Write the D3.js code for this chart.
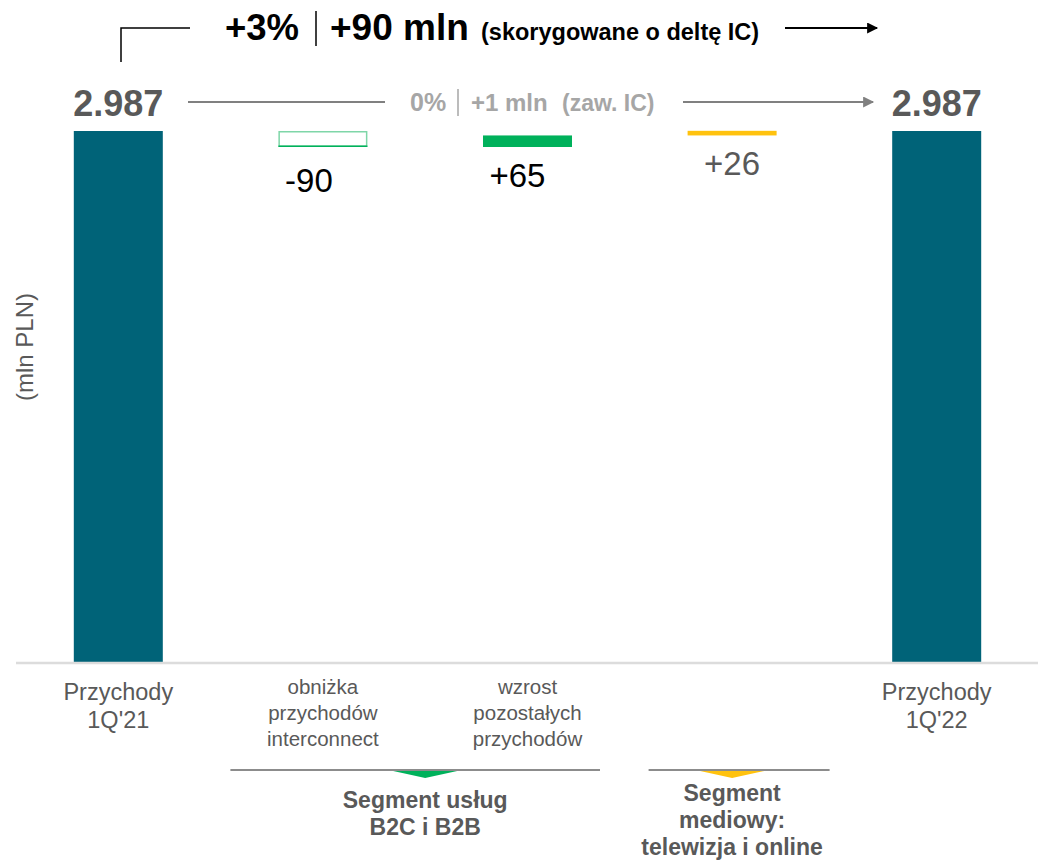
<!DOCTYPE html>
<html>
<head>
<meta charset="utf-8">
<script src="https://cdn.jsdelivr.net/npm/d3@7"></script>
<style>
  html, body { margin: 0; padding: 0; background: #fff; }
  svg { display: block; font-family: "Liberation Sans", Arial, sans-serif; }
</style>
</head>
<body>
<svg id="chart" width="1038" height="862"></svg>
<script>
// Revenue bridge 1Q'21 -> 1Q'22 (mln PLN)
const categories = ["p21", "ic", "other", "media", "p22"];
const categoryLabels = [
  ["Przychody", "1Q'21"],
  ["obniżka", "przychodów", "interconnect"],
  ["wzrost", "pozostałych", "przychodów"],
  [],
  ["Przychody", "1Q'22"]
];
const barKinds = ["total", "decrease", "increase", "increase", "total"];
const barValues = [2987, -90, 65, 26, 2987];
const valueLabels = ["2.987", "-90", "+65", "+26", "2.987"];

const headline = { pct: "+3%", abs: "+90 mln", note: "(skorygowane o deltę IC)" };
const subline = { pct: "0%", abs: "+1 mln", note: "(zaw. IC)" };

const segmentNames = [["Segment usług", "B2C i B2B"], ["Segment", "mediowy:", "telewizja i online"]];
const segmentSpans = [["ic", "other"], ["media", "media"]];

const axisTitle = "(mln PLN)";

// ---- layout ----
const svg = d3.select("#chart");
const teal = "#006378", green = "#00b15b", yellow = "#ffc20e";
const dark = "#595959";

const x = d3.scaleBand().domain(categories).range([16, 1039])
  .paddingInner(0.565).paddingOuter(0.2825);
const y = d3.scaleLinear().domain([0, 2987]).range([662, 131]);
const mid = (k) => x(k) + x.bandwidth() / 2;

// running bases for the bridge
let running = 0;
const bars = categories.map((c, i) => {
  const v = barValues[i];
  let y0, y1;
  if (barKinds[i] === "total") { y0 = 0; y1 = v; running = v; }
  else { y0 = running; y1 = running + v; running = y1; }
  return { key: c, kind: barKinds[i], lo: Math.min(y0, y1), hi: Math.max(y0, y1), label: valueLabels[i], i };
});

const barColor = (d) => d.kind === "total" ? teal : (d.key === "media" ? yellow : green);

// bars
const g = svg.append("g");
bars.forEach(d => {
  const bx = x(d.key), bw = x.bandwidth();
  const top = y(d.hi), bot = y(d.lo);
  if (d.kind === "decrease") {
    g.append("rect").attr("x", bx + 0.75).attr("y", top + 0.75)
      .attr("width", bw - 1.5).attr("height", bot - top - 1.5)
      .attr("fill", "#fff").attr("stroke", "#7fd6a8").attr("stroke-width", 1.5);
    g.append("line").attr("x1", bx).attr("x2", bx + bw).attr("y1", bot - 0.75).attr("y2", bot - 0.75)
      .attr("stroke", green).attr("stroke-width", 1.5);
  } else {
    g.append("rect").attr("x", bx).attr("y", top).attr("width", bw)
      .attr("height", Math.max(1, bot - top)).attr("fill", barColor(d));
  }
});

// baseline
svg.append("line").attr("x1", 16).attr("x2", 1038).attr("y1", y(0) + 1).attr("y2", y(0) + 1)
  .attr("stroke", "#dcdcdc").attr("stroke-width", 2.5);

// value labels for the steps
const labelShift = { ic: -14, other: -10, media: 0 };
const labelDrop = { ic: 45, other: 40, media: 40 };
bars.filter(d => d.kind !== "total").forEach(d => {
  svg.append("text")
    .attr("x", mid(d.key) + labelShift[d.key])
    .attr("y", y(d.lo) + labelDrop[d.key])
    .attr("text-anchor", "middle")
    .attr("font-size", 33)
    .attr("fill", d.key === "media" ? dark : "#000")
    .text(d.label);
});

// totals labels
bars.filter(d => d.kind === "total").forEach(d => {
  svg.append("text")
    .attr("x", mid(d.key))
    .attr("y", 116)
    .attr("text-anchor", "middle")
    .attr("font-size", 36).attr("font-weight", "bold")
    .attr("fill", dark)
    .text(d.label);
});

// category labels
categories.forEach((c, i) => {
  const lines = categoryLabels[i];
  if (!lines.length) return;
  const isTotal = barKinds[i] === "total";
  const t = svg.append("text")
    .attr("text-anchor", "middle")
    .attr("font-size", isTotal ? 23.5 : 20.5)
    .attr("fill", dark);
  lines.forEach((ln, k) => {
    t.append("tspan").attr("x", mid(c))
      .attr("y", isTotal ? 700 + k * 28 : 694 + k * 26).text(ln);
  });
});

// segment brackets
const bracketPad = [[48, 28], [39, 53]];
segmentSpans.forEach((span, si) => {
  const x0 = x(span[0]) - bracketPad[si][0];
  const x1 = x(span[1]) + x.bandwidth() + bracketPad[si][1];
  const cx = (mid(span[0]) + mid(span[1])) / 2;
  const color = span[0] === "media" ? yellow : green;
  svg.append("line").attr("x1", x0).attr("x2", x1).attr("y1", 770).attr("y2", 770)
    .attr("stroke", "#8c8c8c").attr("stroke-width", 2);
  svg.append("path")
    .attr("d", `M${cx - 32},771 L${cx + 32},771 L${cx},778 Z`)
    .attr("fill", color);
  const name = segmentNames[si];
  const t = svg.append("text").attr("text-anchor", "middle")
    .attr("font-size", 23).attr("font-weight", "bold").attr("fill", dark);
  name.forEach((ln, k) => {
    t.append("tspan").attr("x", cx).attr("y", (name.length > 2 ? 801 : 808) + k * 27).text(ln);
  });
});

// axis title
svg.append("text")
  .attr("transform", "translate(33,347) rotate(-90)")
  .attr("text-anchor", "middle")
  .attr("font-size", 24).attr("fill", dark)
  .text(axisTitle);

// arrow heads
const defs = svg.append("defs");
function marker(id, color) {
  defs.append("marker").attr("id", id).attr("viewBox", "0 0 10 10")
    .attr("refX", 9).attr("refY", 5).attr("markerWidth", 15).attr("markerHeight", 11)
    .attr("markerUnits", "userSpaceOnUse").attr("orient", "auto")
    .append("path").attr("d", "M0,0 L10,5 L0,10 Z").attr("fill", color);
}
marker("arrBlack", "#000");
marker("arrGrey", "#808080");

// headline (adjusted for IC delta)
svg.append("path").attr("d", "M121,62 L121,28 L190,28")
  .attr("fill", "none").attr("stroke", "#000").attr("stroke-width", 1.5);
svg.append("line").attr("x1", 785).attr("x2", 877).attr("y1", 28).attr("y2", 28)
  .attr("stroke", "#000").attr("stroke-width", 2).attr("marker-end", "url(#arrBlack)");
const h = svg.append("text").attr("y", 40).attr("font-weight", "bold").attr("fill", "#000");
h.append("tspan").attr("x", 225).attr("font-size", 36.5).text(headline.pct);
h.append("tspan").attr("x", 330).attr("font-size", 37).text(headline.abs);
h.append("tspan").attr("x", 481).attr("font-size", 23.5).text(headline.note);
svg.append("line").attr("x1", 316).attr("x2", 316).attr("y1", 11).attr("y2", 46)
  .attr("stroke", "#000").attr("stroke-width", 1.5);

// subline (including IC)
svg.append("line").attr("x1", 188).attr("x2", 385).attr("y1", 102).attr("y2", 102)
  .attr("stroke", "#808080").attr("stroke-width", 2);
svg.append("line").attr("x1", 683).attr("x2", 873).attr("y1", 102).attr("y2", 102)
  .attr("stroke", "#808080").attr("stroke-width", 2).attr("marker-end", "url(#arrGrey)");
const s2 = svg.append("text").attr("y", 111).attr("font-weight", "bold").attr("fill", "#a6a6a6");
s2.append("tspan").attr("x", 410).attr("font-size", 25).text(subline.pct);
s2.append("tspan").attr("x", 471).attr("font-size", 24).text(subline.abs);
s2.append("tspan").attr("x", 562).attr("font-size", 23).text(subline.note);
svg.append("line").attr("x1", 458).attr("x2", 458).attr("y1", 89).attr("y2", 116)
  .attr("stroke", "#a6a6a6").attr("stroke-width", 1.5);
</script>
</body>
</html>
